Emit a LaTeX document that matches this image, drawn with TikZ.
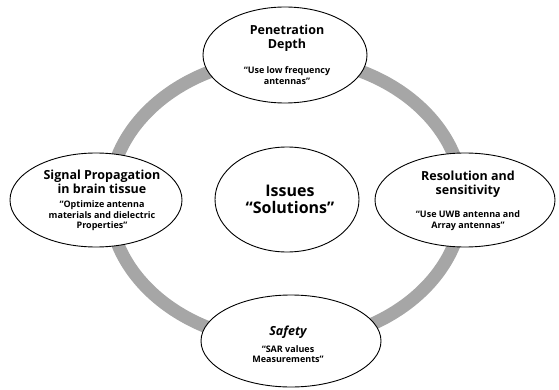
\documentclass[tikz,border=0pt]{standalone}
\usepackage{fontspec}
\setmainfont{Open Sans}
\usetikzlibrary{shapes.geometric}
\tikzset{
  bubble/.style={draw=black, line width=0.9pt, fill=white, ellipse, inner sep=0pt},
  ringline/.style={draw=black!35, line width=13pt},
  titletext/.style={align=center, font=\bfseries\fontsize{12.5}{14}\selectfont, inner sep=0pt},
  subtext/.style={align=center, font=\bfseries\fontsize{9}{10.5}\selectfont, inner sep=0pt},
  centertext/.style={align=center, font=\bfseries\fontsize{16}{17.5}\selectfont, inner sep=0pt}
}
\begin{document}
\begin{tikzpicture}[x=1pt,y=-1pt]
\useasboundingbox (0,0) rectangle (559,390);
\coordinate (ringc) at (286,200);
\draw[ringline] (ringc) ellipse [x radius=177, y radius=142];
% ellipses
\node[bubble, minimum width=164pt, minimum height=96pt] (top) at (285,55) {};
\node[bubble, minimum width=172pt, minimum height=94pt] (left) at (96,200) {};
\node[bubble, minimum width=180pt, minimum height=94pt] (right) at (465,200) {};
\node[bubble, minimum width=180pt, minimum height=92pt] (bottom) at (291,341) {};
\node[bubble, minimum width=144pt, minimum height=105pt] (center) at (287,199.5) {};
% texts
\node[titletext] (toptitle) at (287,38.5) {Penetration\\Depth};
\node[subtext] (topsub) at (287,75.5) {“Use low frequency\\antennas”};
\node[titletext] (lefttitle) at (102,182) {Signal Propagation\\in brain tissue};
\node[subtext] (leftsub) at (102,216) {“Optimize antenna\\materials and dielectric\\Properties”};
\node[titletext] (righttitle) at (468,184) {Resolution and\\sensitivity};
\node[subtext] (rightsub) at (468,220.5) {“Use UWB antenna and\\Array antennas”};
\node[titletext, font=\bfseries\itshape\fontsize{12.5}{14}\selectfont] (bottomtitle) at (288,332) {Safety};
\node[subtext] (bottomsub) at (288,354) {“SAR values\\Measurements”};
\node[centertext] (centertitle) at (290,199.5) {Issues\\“Solutions”};
\end{tikzpicture}
\end{document}
